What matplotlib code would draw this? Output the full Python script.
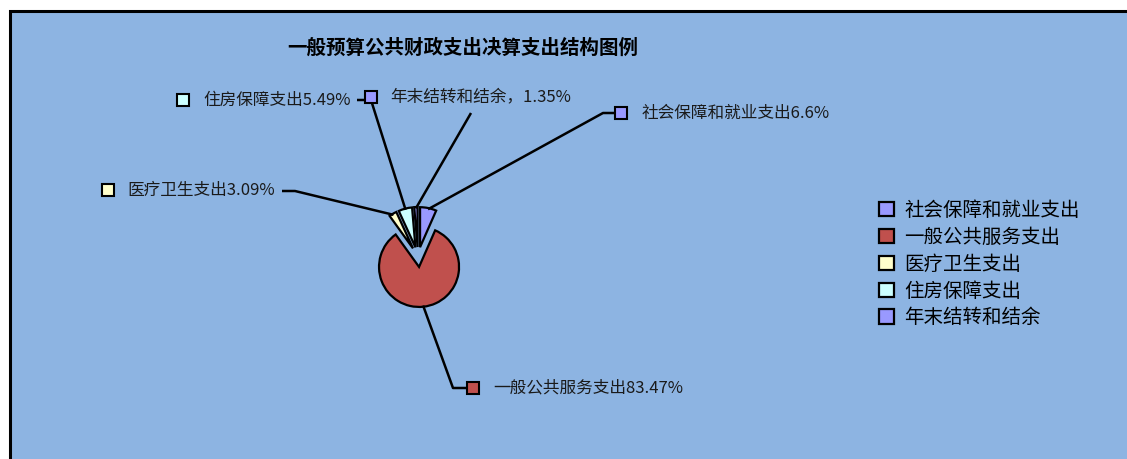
import matplotlib.pyplot as plt
import numpy as np
from matplotlib.patches import Rectangle

plt.rcParams['font.family'] = ['Noto Sans CJK SC', 'DejaVu Sans']

# 数据
categories = ['社会保障和就业支出', '一般公共服务支出', '医疗卫生支出', '住房保障支出', '年末结转和结余']
values = [6.6, 83.47, 3.09, 5.49, 1.35]
label_texts = ['社会保障和就业支出6.6%', '一般公共服务支出83.47%', '医疗卫生支出3.09%',
               '住房保障支出5.49%', '年末结转和结余，1.35%']
colors = ['#9999FF', '#C0504D', '#FFFFCC', '#CCFFFF', '#9999FF']
title = '一般预算公共财政支出决算支出结构图例'

W, H = 1127, 459
fig = plt.figure(figsize=(W / 100, H / 100), dpi=100, facecolor='white')
fig.patches.append(Rectangle((9.5 / W, -0.1), 1.2, 1 - 11 / H + 0.1, transform=fig.transFigure,
                             facecolor='#8DB4E2', edgecolor='black', lw=2.2, zorder=-5))

ax = fig.add_axes([0, 0, 1, 1])
ax.set_facecolor('none')


def py(y):
    # 像素坐标(上为0) -> 数据坐标
    return H - y


cx, cy, r = 418, py(257), 40
wedges, _ = ax.pie(values, colors=colors, startangle=90, counterclock=False,
                   explode=[10] * len(values), center=(cx, cy), radius=r, frame=True,
                   wedgeprops=dict(edgecolor='black', linewidth=1.6))
ax.set_xlim(0, W)
ax.set_ylim(0, H)
ax.set_aspect('equal')
ax.axis('off')

# 标签布局: (线起点, 拐点, 方块位置, 文字x)
layout = [
    (None, (603, 113), (621, 113), 642),
    (None, (453, 388), (473, 388), 493),
    ((282, 191), (295, 191), (108, 190), 127),
    ((357, 100), (371, 100), (183, 100), 203),
    ((471, 113), None, (371, 97), 390),
]

for w, (start, elbow, sq, tx), txt, col in zip(wedges, layout, label_texts, colors):
    mid = np.deg2rad((w.theta1 + w.theta2) / 2)
    ex = w.center[0] + w.r * 0.97 * np.cos(mid)
    ey = w.center[1] + w.r * 0.97 * np.sin(mid)
    pts = []
    if start is not None:
        pts.append((start[0], py(start[1])))
    if elbow is not None:
        if start is None:
            pts.append((sq[0], py(sq[1])))
        pts.append((elbow[0], py(elbow[1])))
    pts.append((ex, ey))
    xs, ys = zip(*pts)
    ax.plot(xs, ys, color='black', lw=1.8, zorder=1, solid_capstyle='butt')
    ax.plot(sq[0], py(sq[1]), marker='s', ms=8, mfc=col, mec='black', mew=1.5, zorder=3)
    ax.text(tx, py(sq[1]), txt, fontsize=12, va='center', ha='left', color='#1a1a1a')

ax.text(463, py(48), title, fontsize=14, fontweight='bold', ha='center', va='center')

ax.legend(wedges, categories, loc='upper left', bbox_to_anchor=(879 / W, 1 - 200 / H),
          frameon=False, fontsize=14, handlelength=0.75, handleheight=0.75,
          handletextpad=0.55, labelspacing=0.3, borderpad=0, borderaxespad=0)

plt.savefig('out.png', dpi=100, facecolor='white')
